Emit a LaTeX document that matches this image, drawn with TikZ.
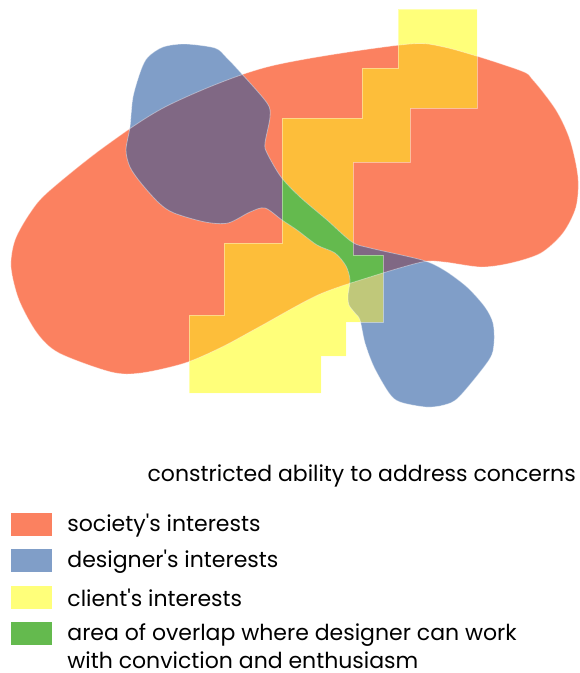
\documentclass[tikz,border=0pt]{standalone}
\usepackage{fontspec}
\setmainfont{Poppins}[Ligatures=TeXOff]
\usetikzlibrary{positioning}

% fill colours, plain and for every overlap
\definecolor{society}{RGB}{251,129,96}
\definecolor{designer}{RGB}{128,158,200}
\definecolor{client}{RGB}{255,255,122}
\definecolor{socclient}{RGB}{253,190,58}
\definecolor{socdesigner}{RGB}{128,104,132}
\definecolor{desclient}{RGB}{192,200,122}
\definecolor{conviction}{RGB}{100,186,78}

% the three areas of interest
\def\societyarea{plot[smooth cycle] coordinates {
  (169,105) (267,67) (400,45) (444,47) (519,70) (533,80) (556,110)
  (570,140) (578,177) (576,207) (563,233) (541,253) (511,263) (481,267)
  (444,262) (422,262) (370,277) (318,295) (259,327) (222,347) (185,363)
  (141,373) (111,372) (59,353) (37,333) (19,300) (11,267) (15,240)
  (30,213) (48,192) (104,147)}}
\def\designerarea{plot[smooth cycle] coordinates {
  (185,44) (215,48) (226,57) (241,73) (267,103) (270,117) (265,143)
  (267,153) (281,177) (300,197) (327,220) (352,242) (370,248) (422,260)
  (444,270) (467,287) (485,307) (493,323) (494,343) (489,360) (459,397)
  (444,405) (426,407) (400,402) (389,393) (374,367) (365,343) (360,320)
  (355,313) (349,305) (348,295) (350,280) (346,266) (335,253) (317,245)
  (297,230) (282,220) (265,208) (250,212) (228,223) (205,222) (174,213)
  (159,203) (141,183) (130,167) (126,150) (130,127) (133,97) (141,70)
  (148,57) (163,47)}}
\def\clientarea{(398,9) -- (477,9) -- (477,108) -- (410,108) -- (410,162)
  -- (353,162) -- (353,255) -- (383,255) -- (383,322) -- (346,322)
  -- (346,356) -- (321,356) -- (321,393) -- (189,393) -- (189,315)
  -- (224,315) -- (224,243) -- (282,243) -- (282,118) -- (362,118)
  -- (362,68) -- (398,68) -- cycle}

\begin{document}
\begin{tikzpicture}[
    x=1pt,y=-1pt,
    every node/.style={font=\fontsize{22}{28}\selectfont},
    swatch/.style={rectangle,inner sep=0pt,minimum width=41pt,minimum height=23pt},
    legtext/.style={inner sep=0pt,align=left},
    rim/.style={draw=white,draw opacity=0.4,line width=0.8pt}
]
\useasboundingbox (0,0) rectangle (580,673);

% =====================
% AREAS
% =====================
\fill[society] \societyarea;
\fill[designer] \designerarea;
\fill[client] \clientarea;

% overlaps
\begin{scope}
  \clip \societyarea;
  \fill[socclient] \clientarea;
  \fill[socdesigner] \designerarea;
\end{scope}
\begin{scope}
  \clip \designerarea;
  \fill[desclient] \clientarea;
\end{scope}
\begin{scope}
  \clip \societyarea;
  \clip \designerarea;
  \fill[conviction] \clientarea;
\end{scope}

% light edges
\path[rim] \societyarea;
\path[rim] \designerarea;
\path[rim] \clientarea;

% =====================
% CAPTION & LEGEND
% =====================
\node[legtext,anchor=base east] (caption) at (576,481) {constricted ability to address concerns};

\node[swatch,fill=society] (swsoc) at (31.5,524.5) {};
\node[swatch,fill=designer,below=13pt of swsoc] (swdes) {};
\node[swatch,fill=client,below=13pt of swdes] (swcli) {};
\node[swatch,fill=conviction,below=13pt of swcli] (swconv) {};

\node[legtext,right=15pt of swsoc,yshift=-1pt] (txtsoc) {society's interests};
\node[legtext,right=15pt of swdes,yshift=-1pt] (txtdes) {designer's interests};
\node[legtext,right=15pt of swcli,yshift=-1pt] (txtcli) {client's interests};
\node[legtext,right=15pt of swconv,yshift=-1pt] (txtconv) {area of overlap where designer can work};
\node[legtext,anchor=base west] (txtconvb) at ([yshift=-28pt]txtconv.base west)
  {with conviction and enthusiasm};

\end{tikzpicture}
\end{document}
